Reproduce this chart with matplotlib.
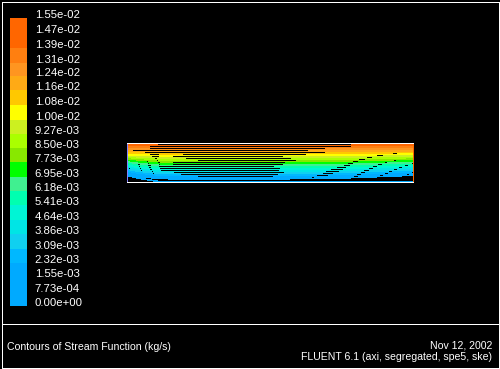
import numpy as np
import matplotlib
matplotlib.use("Agg")
import matplotlib.pyplot as plt

# ---------------- DATA ----------------
# contour levels of the stream function (kg/s), as printed on the legend
levels = [0.00e+00, 7.73e-04, 1.55e-03, 2.32e-03, 3.09e-03, 3.86e-03, 4.64e-03,
          5.41e-03, 6.18e-03, 6.95e-03, 7.73e-03, 8.50e-03, 9.27e-03, 1.00e-02,
          1.08e-02, 1.16e-02, 1.24e-02, 1.31e-02, 1.39e-02, 1.47e-02, 1.55e-02]

# colour of each band, from the lowest level up
band_colors = ["#00AAFF", "#00AAFF", "#00AAFF", "#00B8FF", "#10D0F0",
               "#00E5E5", "#00F5D5", "#00FFB0", "#40F090", "#00FF00",
               "#88E800", "#AAFF00", "#CCF020", "#FFFF00", "#FFC800",
               "#FFAA15", "#FF9520", "#FF7F10", "#FF6600", "#FF6600"]

# geometry (mm): axial stations and radius
pipe_length = 286
pipe_radius = 39
x_stations = [0, 11, 34, 86, 143, 215, 286]

# radial position (mm) of each contour line (levels 1..19) at every station
r_lines = [
    [6.5, 8.0, 9.7, 11.3, 13.0, 15.0, 16.7, 18.3, 20.0, 21.7, 23.3, 24.7, 25.7, 27.3, 29.0, 30.7, 33.0, 35.0, 37.3],
    [4.0, 5.6, 7.3, 9.1, 10.9, 12.8, 14.7, 16.6, 18.6, 20.4, 22.2, 23.8, 25.3, 27.0, 28.8, 30.6, 32.8, 34.8, 37.0],
    [0.0, 3.4, 5.0, 6.8, 8.7, 10.6, 12.5, 14.4, 16.4, 18.3, 20.3, 22.2, 24.2, 26.3, 28.3, 30.4, 32.5, 34.5, 36.6],
    [0.0, 3.0, 4.5, 6.4, 8.5, 10.5, 12.4, 14.5, 16.6, 18.5, 20.5, 22.4, 24.5, 26.5, 28.4, 30.5, 32.5, 34.5, 36.5],
    [0.0, 3.1, 4.6, 6.5, 8.4, 10.5, 12.5, 14.6, 16.5, 18.5, 20.4, 22.5, 24.6, 26.5, 28.5, 30.6, 32.5, 34.4, 36.4],
    [0.0, 4.0, 5.9, 7.8, 9.7, 11.6, 13.5, 15.4, 17.3, 19.2, 21.1, 23.0, 24.9, 26.8, 28.7, 30.7, 32.7, 34.6, 36.6],
    [0.0, 6.8, 8.6, 10.4, 12.2, 14.0, 15.8, 17.6, 19.4, 21.1, 22.8, 24.5, 26.2, 27.9, 29.6, 31.3, 33.1, 35.0, 37.0],
]

title_text = "Contours of Stream Function (kg/s)"
date_text = "Nov 12, 2002"
solver_text = "FLUENT 6.1 (axi, segregated, spe5, ske)"

W, H = 500, 369
FONT = ["Liberation Sans", "DejaVu Sans"]
LW = 0.5  # ~1 px

# ---------------- FIGURE ----------------
fig = plt.figure(figsize=(W / 100, H / 100), dpi=100, facecolor="black")

# outer frame + separator
frame = fig.add_axes([0, 0, 1, 1])
frame.set_xlim(0, W)
frame.set_ylim(H, 0)
frame.axis("off")
frame.plot([1.5, W - 1.5, W - 1.5, 1.5, 1.5], [1.5, 1.5, H - 1.5, H - 1.5, 1.5],
           color="white", lw=LW, antialiased=False)
frame.plot([1.5, W - 1.5], [323.5, 323.5], color="white", lw=LW, antialiased=False)

# ---------------- COLOUR BAR ----------------
cax = fig.add_axes([10 / W, (H - 306) / H, 17 / W, 288 / H])
cax.set_facecolor("black")
for i, c in enumerate(band_colors):
    cax.bar(0.5, levels[i + 1] - levels[i], bottom=levels[i], width=1.0,
            color=c, linewidth=0)
cax.set_xlim(0, 1)
cax.set_ylim(levels[0], levels[-1])
cax.set_xticks([])
cax.yaxis.tick_right()
cax.set_yticks(levels)
cax.set_yticklabels([f"{v:.2e}" for v in levels], color="white",
                    fontsize=8.2, family=FONT, va="baseline")
cax.tick_params(axis="y", length=0, pad=5.5)
for s in cax.spines.values():
    s.set_visible(False)

# ---------------- DOMAIN ----------------
ax = fig.add_axes([127 / W, (H - 182) / H, 286 / W, 39 / H])
ax.set_facecolor("black")
r_arr = np.array(r_lines).T
for k, r in enumerate(r_arr, start=1):
    ax.plot(x_stations, r, color=band_colors[k - 1], lw=LW, antialiased=False)
ax.set_xlim(0, pipe_length)
ax.set_ylim(0, pipe_radius)
ax.set_xticks([])
ax.set_yticks([])
ax.spines["top"].set_color("white")
ax.spines["bottom"].set_color("white")
ax.spines["left"].set_color("#8080FF")
ax.spines["right"].set_color("#FF6600")
for s in ax.spines.values():
    s.set_linewidth(LW)
    s.set_antialiased(False)
    s.set_zorder(3)

# ---------------- TEXT ----------------
fig.text(7 / W, 1 - 350 / H, title_text, color="white", fontsize=7.6,
         family=FONT, va="baseline", ha="left")
fig.text(492 / W, 1 - 348 / H, date_text, color="white", fontsize=7.6,
         family=FONT, va="baseline", ha="right")
fig.text(492 / W, 1 - 360 / H, solver_text, color="white", fontsize=7.6,
         family=FONT, va="baseline", ha="right")

fig.savefig("out.png", dpi=100, facecolor="black")
